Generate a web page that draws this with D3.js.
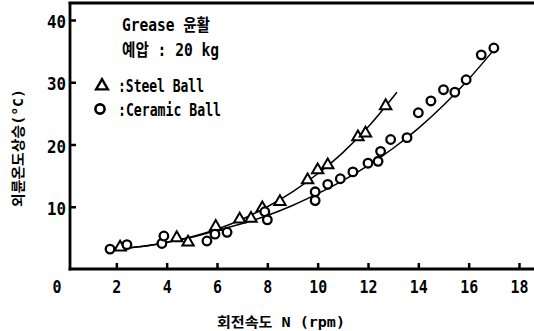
<!DOCTYPE html>
<html>
<head>
<meta charset="utf-8">
<script src="https://cdn.jsdelivr.net/npm/d3@7"></script>
<style>
  html, body { margin: 0; padding: 0; background: #fff; }
  svg { display: block; }
  .tick text { font-family: "DejaVu Sans Mono", monospace; font-weight: bold; font-size: 17px; fill: #000; }
  .tick line { stroke: #000; stroke-width: 2.5; }
</style>
</head>
<body>
<svg id="chart" width="534" height="331"></svg>
<script>
// Outer race temperature rise vs. rotational speed, grease lubrication, preload 20 kg
const xTickValues = [2, 4, 6, 8, 10, 12, 14, 16, 18];
const yTickValues = [10, 20, 30, 40];

// Steel ball measurements: [speed, temperature rise]
const steelSpeed = [2.15, 4.4, 4.85, 5.95, 6.9, 7.35, 7.8, 8.5, 9.6, 10.0, 10.4, 11.6, 11.9, 12.7];
const steelRise  = [3.5, 5.0, 4.3, 6.8, 8.0, 8.1, 9.8, 10.8, 14.3, 15.9, 16.7, 21.2, 21.8, 26.2];

// Ceramic ball measurements
const ceramicSpeed = [1.75, 2.42, 3.81, 3.89, 5.6, 5.92, 6.4, 7.9, 8.0, 9.9, 9.9, 10.4, 10.9, 11.4, 12.0, 12.4, 12.5, 12.9, 13.55, 14.0, 14.5, 15.0, 15.45, 15.9, 16.5, 17.0];
const ceramicRise  = [3.2, 3.9, 4.1, 5.3, 4.5, 5.6, 5.9, 9.2, 7.9, 12.4, 11.0, 13.6, 14.5, 15.6, 17.0, 17.3, 18.9, 20.8, 21.1, 25.1, 27.0, 28.8, 28.4, 30.4, 34.4, 35.5];

// Fitted trend lines
const steelFitSpeed = [1.9, 3, 4, 5, 6, 7, 8, 9, 10, 11, 12, 13.15];
const steelFitRise  = [3.2, 3.6, 4.3, 5.2, 6.4, 8.0, 10.0, 12.4, 15.3, 18.7, 22.8, 28.4];
const ceramicFitSpeed = [1.9, 3, 4, 5, 6, 7, 8, 9, 10, 11, 12, 13, 14, 15, 16, 17];
const ceramicFitRise  = [3.2, 3.6, 4.3, 5.1, 6.2, 7.3, 8.6, 10.2, 12.1, 14.2, 16.6, 19.4, 22.6, 26.3, 30.5, 35.2];

const svg = d3.select("#chart");
const x = d3.scaleLinear().domain([0, 18]).range([66, 519]);
const y = d3.scaleLinear().domain([0, 40]).range([269, 20]);

const axisX = 70, topY = 3, bottomY = 269, rightX = 534;

// Frame: left axis, bottom axis, top rule
const frame = svg.append("g").attr("stroke", "#000").attr("stroke-width", 2.8).attr("fill", "none");
frame.append("line").attr("x1", axisX).attr("x2", axisX).attr("y1", topY - 1).attr("y2", bottomY + 1.4);
frame.append("line").attr("x1", axisX - 1.4).attr("x2", rightX).attr("y1", bottomY).attr("y2", bottomY);
frame.append("line").attr("x1", axisX - 1.4).attr("x2", rightX).attr("y1", topY).attr("y2", topY);

// Axes (inward ticks), narrow digits
const fmt = d3.format("d");
const gx = svg.append("g").attr("transform", `translate(0,${bottomY})`)
  .call(d3.axisBottom(x).tickValues(xTickValues).tickSize(-6).tickPadding(12).tickFormat(fmt));
gx.select(".domain").remove();
gx.selectAll(".tick text")
  .attr("textLength", d => fmt(d).length * 9).attr("lengthAdjust", "spacingAndGlyphs");

const gy = svg.append("g").attr("transform", `translate(${axisX},0)`)
  .call(d3.axisLeft(y).tickValues(yTickValues).tickSize(-6).tickPadding(4).tickFormat(fmt));
gy.select(".domain").remove();
gy.selectAll(".tick text").attr("dy", "0.45em")
  .attr("textLength", d => fmt(d).length * 9.5).attr("lengthAdjust", "spacingAndGlyphs");

// Origin label
svg.append("text").attr("x", 57).attr("y", 281).attr("dy", "0.71em")
  .attr("text-anchor", "middle").attr("textLength", 9).attr("lengthAdjust", "spacingAndGlyphs")
  .style("font-family", "DejaVu Sans Mono, monospace").style("font-weight", "bold").style("font-size", "17px")
  .text("0");

// Trend lines
const line = d3.line().x(d => x(d[0])).y(d => y(d[1])).curve(d3.curveCatmullRom.alpha(0.5));
svg.append("path").datum(d3.zip(steelFitSpeed, steelFitRise))
  .attr("d", line).attr("fill", "none").attr("stroke", "#000").attr("stroke-width", 1.5);
svg.append("path").datum(d3.zip(ceramicFitSpeed, ceramicFitRise))
  .attr("d", line).attr("fill", "none").attr("stroke", "#000").attr("stroke-width", 1.5);

// Markers
const tri = d3.symbol().type(d3.symbolTriangle).size(56);
svg.append("g").selectAll("path").data(d3.zip(steelSpeed, steelRise)).join("path")
  .attr("transform", d => `translate(${x(d[0])},${y(d[1])})`)
  .attr("d", tri).attr("fill", "#fff").attr("stroke", "#000").attr("stroke-width", 2);

svg.append("g").selectAll("circle").data(d3.zip(ceramicSpeed, ceramicRise)).join("circle")
  .attr("cx", d => x(d[0])).attr("cy", d => y(d[1])).attr("r", 4.3)
  .attr("fill", "#fff").attr("stroke", "#000").attr("stroke-width", 2.3);

// Annotation and legend
const labelFont = "DejaVu Sans Mono, Noto Sans CJK KR, monospace";
function label(tx, ty, str, len) {
  svg.append("text").attr("x", tx).attr("y", ty)
    .attr("textLength", len).attr("lengthAdjust", "spacingAndGlyphs")
    .style("font-family", labelFont).style("font-weight", "bold").style("font-size", "17px")
    .text(str);
}
label(122, 31, "Grease 윤활", 88);
label(122, 56, "예압 : 20 kg", 97);
label(118, 92, ":Steel Ball", 86);
label(118, 116, ":Ceramic Ball", 103);

svg.append("path").attr("transform", "translate(102,86)")
  .attr("d", d3.symbol().type(d3.symbolTriangle).size(60))
  .attr("fill", "#fff").attr("stroke", "#000").attr("stroke-width", 2.4);
svg.append("circle").attr("cx", 100).attr("cy", 109).attr("r", 4.6)
  .attr("fill", "#fff").attr("stroke", "#000").attr("stroke-width", 2.6);

// Axis titles
svg.append("text").attr("x", 281).attr("y", 327).attr("text-anchor", "middle")
  .attr("textLength", 128).attr("lengthAdjust", "spacingAndGlyphs")
  .style("font-family", labelFont).style("font-weight", "bold").style("font-size", "14px")
  .text("회전속도 N (rpm)");

svg.append("text").attr("transform", "translate(23,148) rotate(-90)").attr("text-anchor", "middle")
  .attr("textLength", 118).attr("lengthAdjust", "spacingAndGlyphs")
  .style("font-family", labelFont).style("font-weight", "bold").style("font-size", "14px")
  .text("외륜온도상승(°C)");
</script>
</body>
</html>
